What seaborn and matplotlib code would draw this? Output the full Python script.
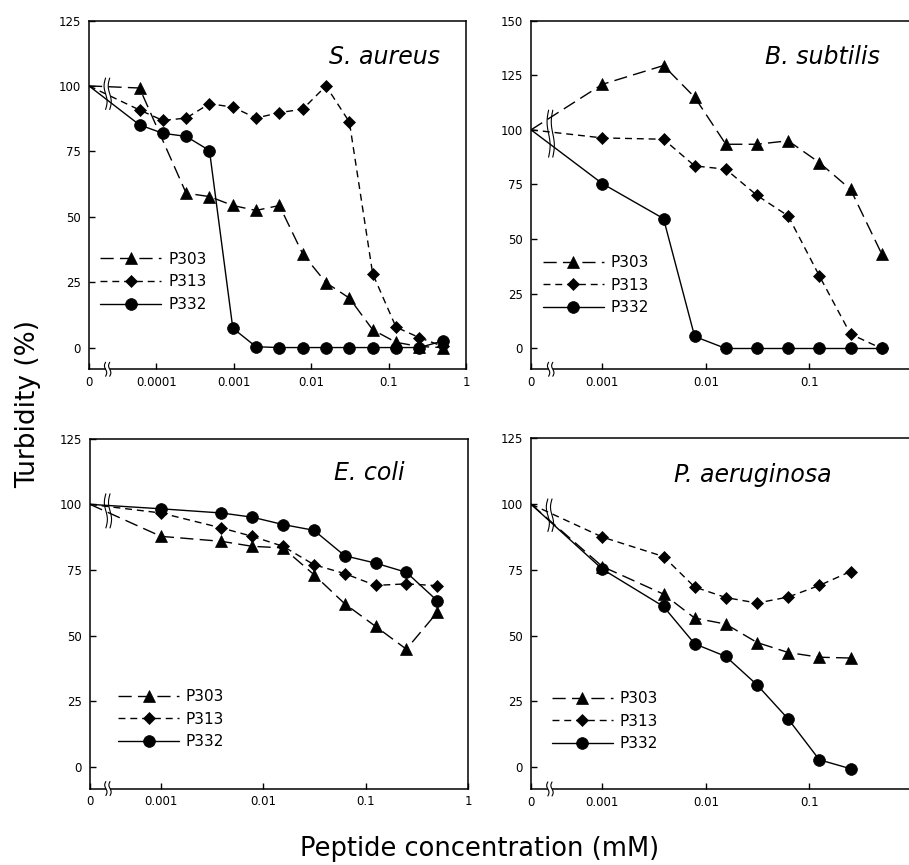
import numpy as np
import pandas as pd
import matplotlib
matplotlib.use('Agg')
import matplotlib.pyplot as plt
import matplotlib.transforms as mtransforms
from matplotlib.patches import Rectangle
from matplotlib.ticker import NullLocator
import seaborn as sns

sns.set_style('ticks')
plt.rcParams['font.family'] = ['DejaVu Sans']
plt.rcParams['xtick.direction'] = 'in'
plt.rcParams['ytick.direction'] = 'in'
for key in ['text.color', 'axes.labelcolor', 'xtick.color', 'ytick.color', 'axes.edgecolor']:
    plt.rcParams[key] = 'black'

peptides = ['P303', 'P313', 'P332']

# S. aureus (0 = no peptide)
conc_sa = [0, 0.000061, 0.000122, 0.000244, 0.000488, 0.000977, 0.00195, 0.0039,
           0.0078, 0.0156, 0.03125, 0.0625, 0.125, 0.25, 0.5]
p303_sa = [100, 99.2, None, 59.0, 57.7, 54.3, 52.4, 54.3, 35.8, 24.8, 18.9, 6.8, 2.0, 0.4, 0.0]
p313_sa = [100, 90.8, 86.8, 87.7, 93.2, 91.9, 87.7, 89.8, 91.1, 100.0, 86.2, 28.2, 7.8, 3.8, 0.5]
p332_sa = [100, 85.1, 81.9, 80.7, 75.3, 7.4, 0.3, 0, 0, 0, 0, 0, 0, 0, 2.5]

# B. subtilis
conc_bs = [0, 0.001, 0.0039, 0.0078, 0.0156, 0.03125, 0.0625, 0.125, 0.25, 0.5]
p303_bs = [100, 120.8, 129.4, 114.9, 93.4, 93.4, 95.0, 85.0, 72.8, 43.3]
p313_bs = [100, 96.3, 95.7, 83.5, 82.0, 70.0, 60.6, 33.2, 6.6, 0]
p332_bs = [100, 75.4, 59.4, 5.5, 0, 0, 0, 0, 0, 0]

# E. coli
conc_ec = [0, 0.001, 0.0039, 0.0078, 0.0156, 0.03125, 0.0625, 0.125, 0.25, 0.5]
p303_ec = [100, 87.8, 85.9, 84.0, 83.4, 73.2, 62.1, 53.5, 44.8, 58.8]
p313_ec = [100, 96.7, 91.0, 87.8, 84.0, 77.0, 73.6, 69.1, 69.7, 69.0]
p332_ec = [100, 98.3, 96.7, 95.1, 92.3, 90.1, 80.4, 77.6, 74.1, 63.3]

# P. aeruginosa
conc_pa = [0, 0.001, 0.0039, 0.0078, 0.0156, 0.03125, 0.0625, 0.125, 0.25]
p303_pa = [100, 76.3, 65.8, 56.7, 54.4, 47.4, 43.6, 41.8, 41.5]
p313_pa = [100, 87.5, 80.1, 68.5, 64.5, 62.4, 64.7, 69.1, 74.4]
p332_pa = [100, 75.3, 61.1, 46.9, 42.1, 31.3, 18.3, 2.8, -0.6]

styles = {
    'P303': dict(marker='^', markersize=9, linestyle=(0, (9.5, 4.5))),
    'P313': dict(marker='D', markersize=6.5, linestyle=(0, (5, 3.5))),
    'P332': dict(marker='o', markersize=8.5, linestyle='-'),
}

panels = [
    dict(name='S. aureus', conc=conc_sa, vals=[p303_sa, p313_sa, p332_sa],
         rect=[0.0979, 0.5731, 0.4147, 0.4032], xmin=10 ** -4.867, ylim=(-8.3, 125),
         yticks=[0, 25, 50, 75, 100, 125], xticks=[1e-4, 1e-3, 1e-2, 1e-1, 1],
         xlabels=['0.0001', '0.001', '0.01', '0.1', '1'],
         title_xy=(0.93, 0.894), title_ha='right', leg=(0.03, 0.337),
         brk=0.044, brk_y=(91, 103), right=True),
    dict(name='B. subtilis', conc=conc_bs, vals=[p303_bs, p313_bs, p332_bs],
         rect=[0.5842, 0.5731, 0.42, 0.4032], xmin=10 ** -3.689, ylim=(-9.5, 150),
         yticks=[0, 25, 50, 75, 100, 125, 150], xticks=[1e-3, 1e-2, 1e-1],
         xlabels=['0.001', '0.01', '0.1'],
         title_xy=(0.914, 0.895), title_ha='right', leg=(0.031, 0.328),
         brk=0.046, brk_y=(87.5, 109), right=False),
    dict(name='E. coli', conc=conc_ec, vals=[p303_ec, p313_ec, p332_ec],
         rect=[0.099, 0.0884, 0.4158, 0.4044], xmin=10 ** -3.694, ylim=(-8.3, 125),
         yticks=[0, 25, 50, 75, 100, 125], xticks=[1e-3, 1e-2, 1e-1, 1],
         xlabels=['0.001', '0.01', '0.1', '1'],
         title_xy=(0.738, 0.902), title_ha='center', leg=(0.074, 0.284),
         brk=0.042, brk_y=(91, 104), right=True),
    dict(name='P. aeruginosa', conc=conc_pa, vals=[p303_pa, p313_pa, p332_pa],
         rect=[0.5842, 0.0879, 0.42, 0.4052], xmin=10 ** -3.689, ylim=(-8.3, 125),
         yticks=[0, 25, 50, 75, 100, 125], xticks=[1e-3, 1e-2, 1e-1],
         xlabels=['0.001', '0.01', '0.1'],
         title_xy=(0.581, 0.896), title_ha='center', leg=(0.054, 0.279),
         brk=0.044, brk_y=(89.6, 102), right=False),
]


def squiggle(ax, x0, y0, y1, trans, gap=0.011, amp=0.004, white=False):
    t = np.linspace(0, 1, 40)
    if white:
        ax.add_patch(Rectangle((x0, y0), gap, y1 - y0, transform=trans, facecolor='white',
                               edgecolor='none', clip_on=False, zorder=4))
    for dx in (0, gap):
        ax.plot(x0 + dx + amp * np.sin(2 * np.pi * t), y0 + (y1 - y0) * t, color='black',
                lw=0.8, transform=trans, clip_on=False, zorder=5)


fig = plt.figure(figsize=(9.09, 8.65), dpi=100)

for p in panels:
    ax = fig.add_axes(p['rect'])
    for pep, vals in zip(peptides, p['vals']):
        df = pd.DataFrame({'conc': p['conc'], 'turb': vals}).dropna()
        # the no-peptide control sits at the left edge of the broken log axis
        df['x'] = df['conc'].where(df['conc'] > 0, p['xmin'])
        st = styles[pep]
        sns.lineplot(data=df, x='x', y='turb', ax=ax, color='black', lw=1.0,
                     marker=st['marker'], markersize=st['markersize'],
                     linestyle=st['linestyle'], mec='black', mew=0.5,
                     markevery=list(range(1, len(df))), label=pep, sort=False,
                     estimator=None)
    ax.set_xscale('log')
    ax.set_xlim(p['xmin'], 1)
    ax.set_ylim(*p['ylim'])
    ax.set_xticks([p['xmin']] + p['xticks'])
    ax.set_xticklabels(['0'] + p['xlabels'])
    ax.xaxis.set_minor_locator(NullLocator())
    ax.set_yticks(p['yticks'])
    ax.tick_params(labelsize=8.5, length=4, width=1, pad=5)
    ax.tick_params(axis='y', pad=6)
    ax.set_xlabel('')
    ax.set_ylabel('')
    for s in ax.spines.values():
        s.set_linewidth(1.1)
        s.set_visible(True)
    ax.spines['right'].set_visible(p['right'])
    ax.text(p['title_xy'][0], p['title_xy'][1], p['name'], transform=ax.transAxes,
            ha=p['title_ha'], va='center', fontsize=17, style='italic')
    ax.legend(loc='upper left', bbox_to_anchor=p['leg'], frameon=False, fontsize=11,
              handlelength=4.0, handletextpad=0.45, labelspacing=0.5, borderpad=0,
              borderaxespad=0)
    blend = mtransforms.blended_transform_factory(ax.transAxes, ax.transData)
    squiggle(ax, p['brk'], p['brk_y'][0], p['brk_y'][1], blend)
    squiggle(ax, p['brk'], -0.02, 0.02, ax.transAxes, white=True, amp=0.003)

fig.text(0.031, 0.533, 'Turbidity (%)', rotation=90, ha='center', va='center', fontsize=19)
fig.text(0.528, 0.018, 'Peptide concentration (mM)', ha='center', va='center', fontsize=18.5)

fig.savefig('out.png', dpi=100)
